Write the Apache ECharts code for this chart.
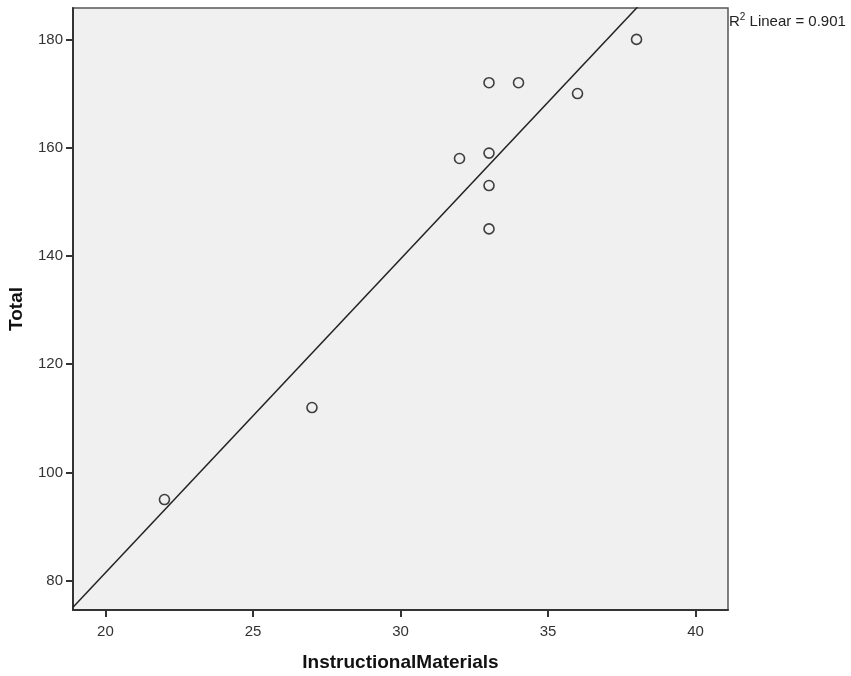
<!DOCTYPE html>
<html><head><meta charset="utf-8">
<script src="https://cdn.jsdelivr.net/npm/echarts@6/dist/echarts.min.js"></script>
<style>html,body{margin:0;padding:0;background:#fff}#c{width:851px;height:676px}</style>
</head><body><div id="c"></div>
<script>
const instructionalMaterials = [22, 27, 32, 33, 33, 33, 33, 34, 36, 38];
const total = [95, 112, 158, 172, 159, 153, 145, 172, 170, 180];
const xTicks = [20, 25, 30, 35, 40];
const yTicks = [80, 100, 120, 140, 160, 180];
const xRange = [18.9, 41.1];
const yRange = [74.6, 185.8];

// least-squares fit line from the data
const n = instructionalMaterials.length;
const mx = instructionalMaterials.reduce((a,b)=>a+b,0)/n;
const my = total.reduce((a,b)=>a+b,0)/n;
let sxy=0,sxx=0,syy=0;
for(let i=0;i<n;i++){const dx=instructionalMaterials[i]-mx, dy=total[i]-my; sxy+=dx*dy; sxx+=dx*dx; syy+=dy*dy;}
const slope = sxy/sxx, icpt = my - slope*mx;
const r2 = (sxy*sxy)/(sxx*syy);
const fitLine = [[xRange[0], icpt+slope*xRange[0]], [xRange[1], icpt+slope*xRange[1]]];

const chart = echarts.init(document.getElementById('c'), null, {renderer:'canvas'});
const G = {left:73, right:123, top:8, bottom:66};
chart.setOption({
  animation:false,
  backgroundColor:'#ffffff',
  textStyle:{fontFamily:'Liberation Sans, Arial, sans-serif'},
  grid:{left:G.left, right:G.right, top:G.top, bottom:G.bottom, containLabel:false, outerBoundsMode:'none',
        show:true, backgroundColor:'#f0f0f0', borderColor:'#555', borderWidth:1.5},
  xAxis:{type:'value', min:xRange[0], max:xRange[1], interval:5,
    axisLine:{onZero:false, lineStyle:{color:'#333', width:2}},
    axisTick:{show:true, length:7, lineStyle:{color:'#333', width:2}, customValues:xTicks},
    axisLabel:{color:'#333', fontSize:15, margin:14, customValues:xTicks, showMinLabel:true, showMaxLabel:true},
    splitLine:{show:false},
    name:'InstructionalMaterials', nameLocation:'middle', nameGap:43,
    nameTextStyle:{fontSize:19, fontWeight:'bold', color:'#111', fontFamily:'Liberation Sans, Arial, sans-serif'}},
  yAxis:{type:'value', min:yRange[0], max:yRange[1],
    axisLine:{onZero:false, lineStyle:{color:'#333', width:2}},
    axisTick:{show:true, length:7, lineStyle:{color:'#333', width:2}, customValues:yTicks},
    axisLabel:{color:'#333', fontSize:15, margin:10, customValues:yTicks},
    splitLine:{show:false},
    name:'Total', nameLocation:'middle', nameGap:47, nameRotate:90,
    nameTextStyle:{fontSize:19, fontWeight:'bold', color:'#111', fontFamily:'Liberation Sans, Arial, sans-serif'}},
  series:[
    {type:'line', data:fitLine, showSymbol:false, symbol:'none', clip:true,
     lineStyle:{color:'#222', width:1.5}, silent:true},
    {type:'scatter', data:instructionalMaterials.map((x,i)=>[x,total[i]]), symbol:'circle', symbolSize:10,
     itemStyle:{color:'rgba(0,0,0,0)', borderColor:'#111', borderWidth:1.6}}
  ],
  graphic:[{type:'text', left:729, top:12, style:{
    text:'{r|R}{s|2}{r| Linear = '+r2.toFixed(3)+'}',
    rich:{r:{fontSize:15, fill:'#222', fontFamily:'Liberation Sans, Arial, sans-serif', verticalAlign:'bottom'},
          s:{fontSize:10, fill:'#222', fontFamily:'Liberation Sans, Arial, sans-serif', verticalAlign:'top', padding:[0,0,7,0]}}}}]
});
</script></body></html>
